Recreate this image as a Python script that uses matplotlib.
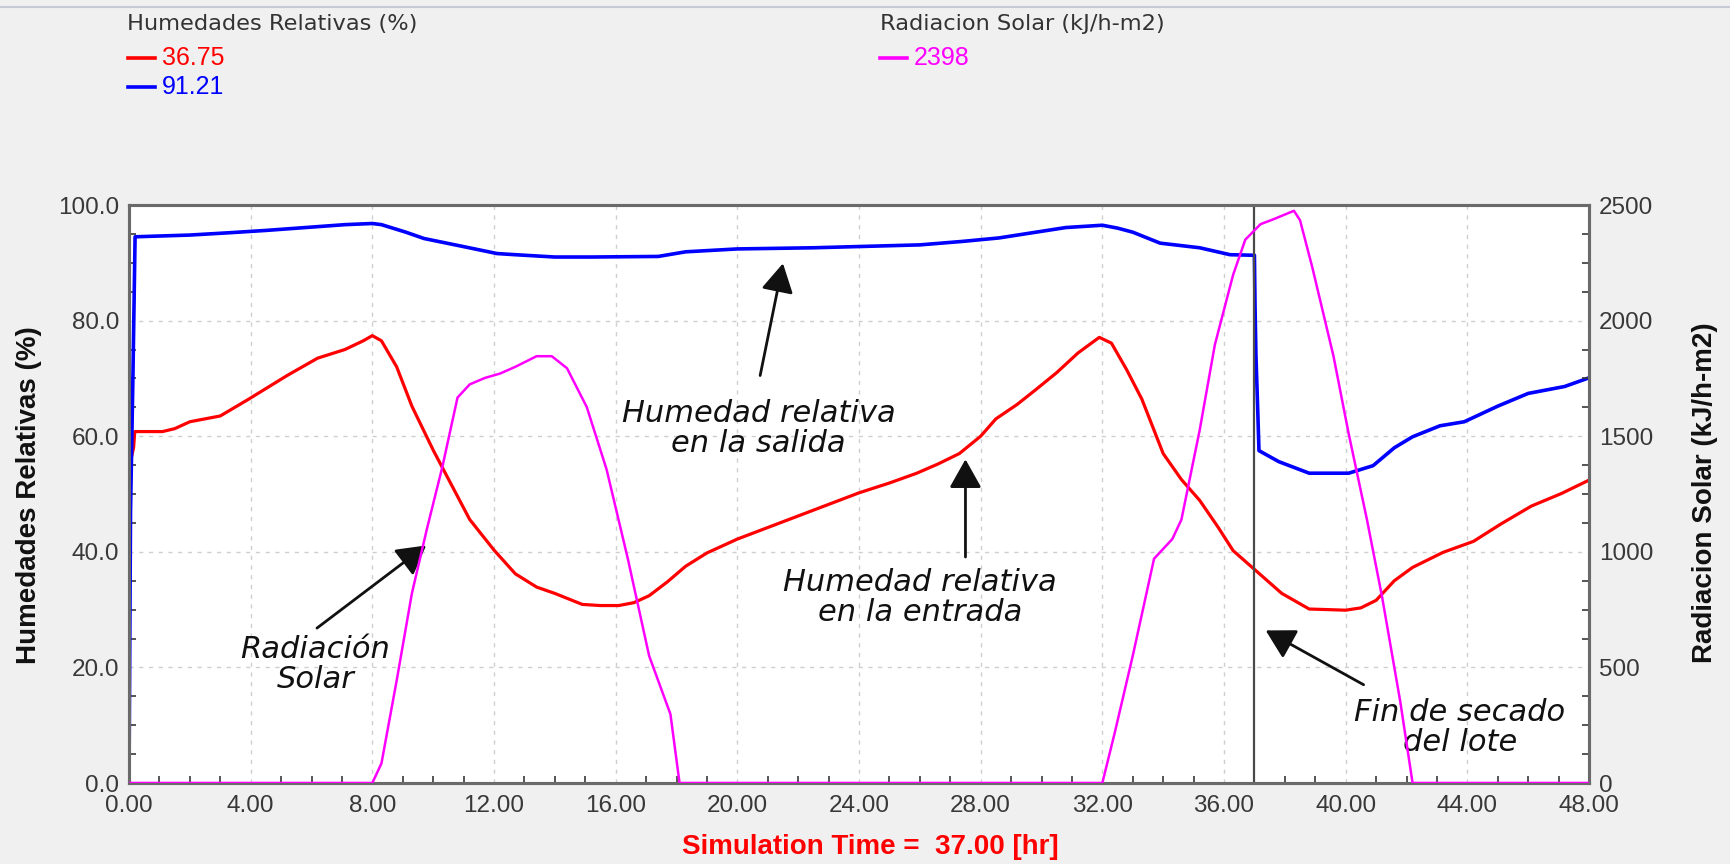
import matplotlib
matplotlib.use("Agg")
import matplotlib.pyplot as plt
from matplotlib.lines import Line2D
from matplotlib.ticker import MultipleLocator, FormatStrFormatter

# ---------------- data ----------------
t_in = [0, 0.02, 0.15, 0.19, 1.1, 1.5, 2, 3, 3.9, 5.2, 6.2, 7.1, 7.7, 8, 8.3, 8.8, 9.3, 10, 10.6,
        11.2, 12, 12.7, 13.4, 14, 14.9, 15.5, 16.1, 16.6, 17.1, 17.7, 18.3, 19, 20, 21, 22, 23,
        24, 25, 25.9, 26.6, 27.3, 28, 28.5, 29.2, 29.8, 30.5, 31.2, 31.9, 32.3, 32.8, 33.3, 34,
        34.6, 35.2, 35.8, 36.3, 37.1, 37.9, 38.8, 40, 40.5, 41, 41.6, 42.2, 43.2, 44.2, 45.1,
        46.1, 47.1, 48]
rh_in = [50, 55, 58, 60.8, 60.8, 61.3, 62.5, 63.5, 66.3, 70.5, 73.5, 75, 76.5, 77.4, 76.5, 72,
         65.2, 57.6, 51.6, 45.6, 40.3, 36.2, 33.9, 32.8, 30.9, 30.7, 30.7, 31.2, 32.4, 34.8, 37.5,
         39.8, 42.2, 44.2, 46.2, 48.2, 50.2, 51.9, 53.6, 55.2, 57, 60, 63, 65.5, 68, 71, 74.4,
         77.1, 76.1, 71.5, 66.4, 57, 52.5, 48.9, 44.3, 40.2, 36.5, 32.8, 30.1, 29.9, 30.3, 31.6,
         35, 37.3, 39.9, 41.8, 44.8, 47.9, 50.1, 52.4]

t_out = [0, 0.05, 0.13, 0.2, 2, 3.3, 4.5, 5.8, 7.1, 8, 8.3, 9.1, 9.7, 11, 12.1, 12.7, 14, 15.2,
         17.4, 18.3, 20, 22.5, 26, 27.4, 28.6, 29.7, 30.8, 32, 32.5, 33, 33.9, 35.2, 36.2, 37,
         37.02, 37.05, 37.1, 37.15, 37.8, 38.8, 40.1, 40.9, 41.6, 42.2, 43.1, 43.9, 45, 46,
         47.2, 48]
rh_out = [0, 47, 70.6, 94.5, 94.8, 95.2, 95.6, 96.1, 96.6, 96.8, 96.6, 95.3, 94.2, 92.8, 91.6,
          91.4, 91, 91, 91.1, 91.9, 92.4, 92.6, 93.1, 93.7, 94.3, 95.2, 96.1, 96.5, 96, 95.3,
          93.4, 92.6, 91.4, 91.3, 82.6, 74, 66, 57.5, 55.6, 53.6, 53.6, 54.9, 58, 59.9, 61.8,
          62.5, 65.2, 67.4, 68.6, 70.1]

t_rad = [0, 8.0, 8.3, 8.8, 9.3, 9.8, 10.3, 10.8, 11.2, 11.7, 12.2, 12.7, 13.4, 13.9, 14.4, 15.05,
         15.7, 16.4, 17.1, 17.8, 18.1, 32.0, 32.4, 33, 33.7, 34.3, 34.6, 35.2, 35.7, 36.3, 36.7,
         37.2, 37.6, 38.3, 38.5, 38.9, 39.6, 40.1, 40.7, 41.2, 41.8, 42.2, 48]
rad = [0, 0, 85, 443, 820, 1102, 1366, 1667, 1724, 1752, 1771, 1800, 1846, 1846, 1794, 1626,
       1357, 970, 550, 298, 0, 0, 213, 550, 970, 1055, 1139, 1526, 1896, 2198, 2350, 2417, 2437,
       2475, 2434, 2232, 1846, 1510, 1139, 803, 348, 0, 0]

x_ticks = [0, 4, 8, 12, 16, 20, 24, 28, 32, 36, 40, 44, 48]
rh_ticks = [0, 20, 40, 60, 80, 100]
rad_ticks = [0, 500, 1000, 1500, 2000, 2500]
cursor_time = 37.0
legend_rh_header = "Humedades Relativas (%)"
legend_rad_header = "Radiacion Solar (kJ/h-m2)"
legend_in_value = "36.75"
legend_out_value = "91.21"
legend_rad_value = "2398"
xlabel_text = "Simulation Time =  37.00 [hr]"

RED = "#ff0000"
BLUE = "#0000ff"
MAG = "#ff00ff"
TICKC = "#383838"
SPINE = "#6a6a6a"

# ---------------- figure ----------------
fig = plt.figure(figsize=(17.3, 8.64), dpi=100, facecolor="#f0f0f0")
ax = fig.add_axes([129 / 1730, 81 / 864, 1460 / 1730, 578 / 864])
ax.set_facecolor("white")
ax2 = ax.twinx()

ax.plot(t_in, rh_in, color=RED, lw=2.3, zorder=3)
ax.plot(t_out, rh_out, color=BLUE, lw=2.6, zorder=3)
ax2.plot(t_rad, rad, color=MAG, lw=1.8, zorder=3)

ax.axvline(cursor_time, color="#4a4a4a", lw=1.6, zorder=4)

ax.set_xlim(0, 48)
ax.set_ylim(0, 100)
ax2.set_ylim(0, 2500)

ax.set_xticks(x_ticks)
ax.set_yticks(rh_ticks)
ax2.set_yticks(rad_ticks)
ax.xaxis.set_major_formatter(FormatStrFormatter("%.2f"))
ax.yaxis.set_major_formatter(FormatStrFormatter("%.1f"))
ax2.yaxis.set_major_formatter(FormatStrFormatter("%d"))
ax.xaxis.set_minor_locator(MultipleLocator(1))
ax.yaxis.set_minor_locator(MultipleLocator(5))
ax2.yaxis.set_minor_locator(MultipleLocator(125))

for a in (ax, ax2):
    a.tick_params(which="both", direction="in", color=TICKC, labelcolor=TICKC,
                  labelsize=17.5, pad=7)
    a.tick_params(which="major", length=0)
    a.tick_params(which="minor", length=5, width=1.2)
    for lab in a.get_xticklabels() + a.get_yticklabels():
        lab.set_family("Liberation Sans")
    for s in a.spines.values():
        s.set_color(SPINE)
        s.set_linewidth(2.2)
ax.tick_params(axis="x", which="both", pad=9)

ax.grid(True, which="major", color="#cfcfcf", linestyle=(0, (3, 4)), lw=1.0)
ax.set_axisbelow(True)

# axis labels
fig.text(29 / 1730, 1 - 495 / 864, legend_rh_header, rotation=90, ha="center", va="center",
         family="Liberation Sans", weight="bold", fontsize=20, color="#111111")
fig.text(1705 / 1730, 1 - 493 / 864, legend_rad_header, rotation=90, ha="center", va="center",
         family="Liberation Sans", weight="bold", fontsize=20, color="#111111")
fig.text(870 / 1730, 1 - 847 / 864, xlabel_text, ha="center", va="center",
         family="Liberation Sans", weight="bold", fontsize=20, color=RED)

# top legend area
fig.add_artist(Line2D([0, 1], [1 - 6.5 / 864] * 2, color="#c5cad6", lw=1.5))
fig.text(127 / 1730, 1 - 24 / 864, legend_rh_header, ha="left", va="center",
         family="DejaVu Sans", fontsize=16.2, color="#333333")
fig.text(880 / 1730, 1 - 24 / 864, legend_rad_header, ha="left", va="center",
         family="DejaVu Sans", fontsize=16.2, color="#333333")
for y, col, txt, x0 in [(58, RED, legend_in_value, 128), (87, BLUE, legend_out_value, 128),
                        (58, MAG, legend_rad_value, 880)]:
    fig.add_artist(Line2D([x0 / 1730, (x0 + 27) / 1730], [1 - y / 864] * 2, color=col, lw=2.6))
    fig.text((x0 + 34) / 1730, 1 - y / 864, txt, ha="left", va="center",
             family="Liberation Sans", fontsize=18, color=col)

# annotations
afont = dict(family="DejaVu Sans", style="italic", fontsize=22, color="#111111",
             ha="center", va="center", linespacing=1.05)
aprops = dict(arrowstyle="-|>,head_length=0.8,head_width=0.45", lw=2.0, color="#111111",
              shrinkA=0, shrinkB=0, mutation_scale=22)

ax.text(20.7, 61.3, "Humedad relativa\nen la salida", **afont)
ax.annotate("", xy=(21.5, 89.9), xytext=(20.75, 70.5), arrowprops=aprops)

ax.text(26.0, 32.1, "Humedad relativa\nen la entrada", **afont)
ax.annotate("", xy=(27.5, 56.0), xytext=(27.5, 39.1), arrowprops=aprops)

ax.text(6.13, 20.5, "Radiación\nSolar", **afont)
ax.annotate("", xy=(9.77, 41.1), xytext=(6.18, 26.8), arrowprops=aprops)

ax.text(43.75, 9.6, "Fin de secado\ndel lote", **afont)
ax.annotate("", xy=(37.37, 26.4), xytext=(40.59, 17.0), arrowprops=aprops)

fig.savefig("out.png", dpi=100, facecolor=fig.get_facecolor())
